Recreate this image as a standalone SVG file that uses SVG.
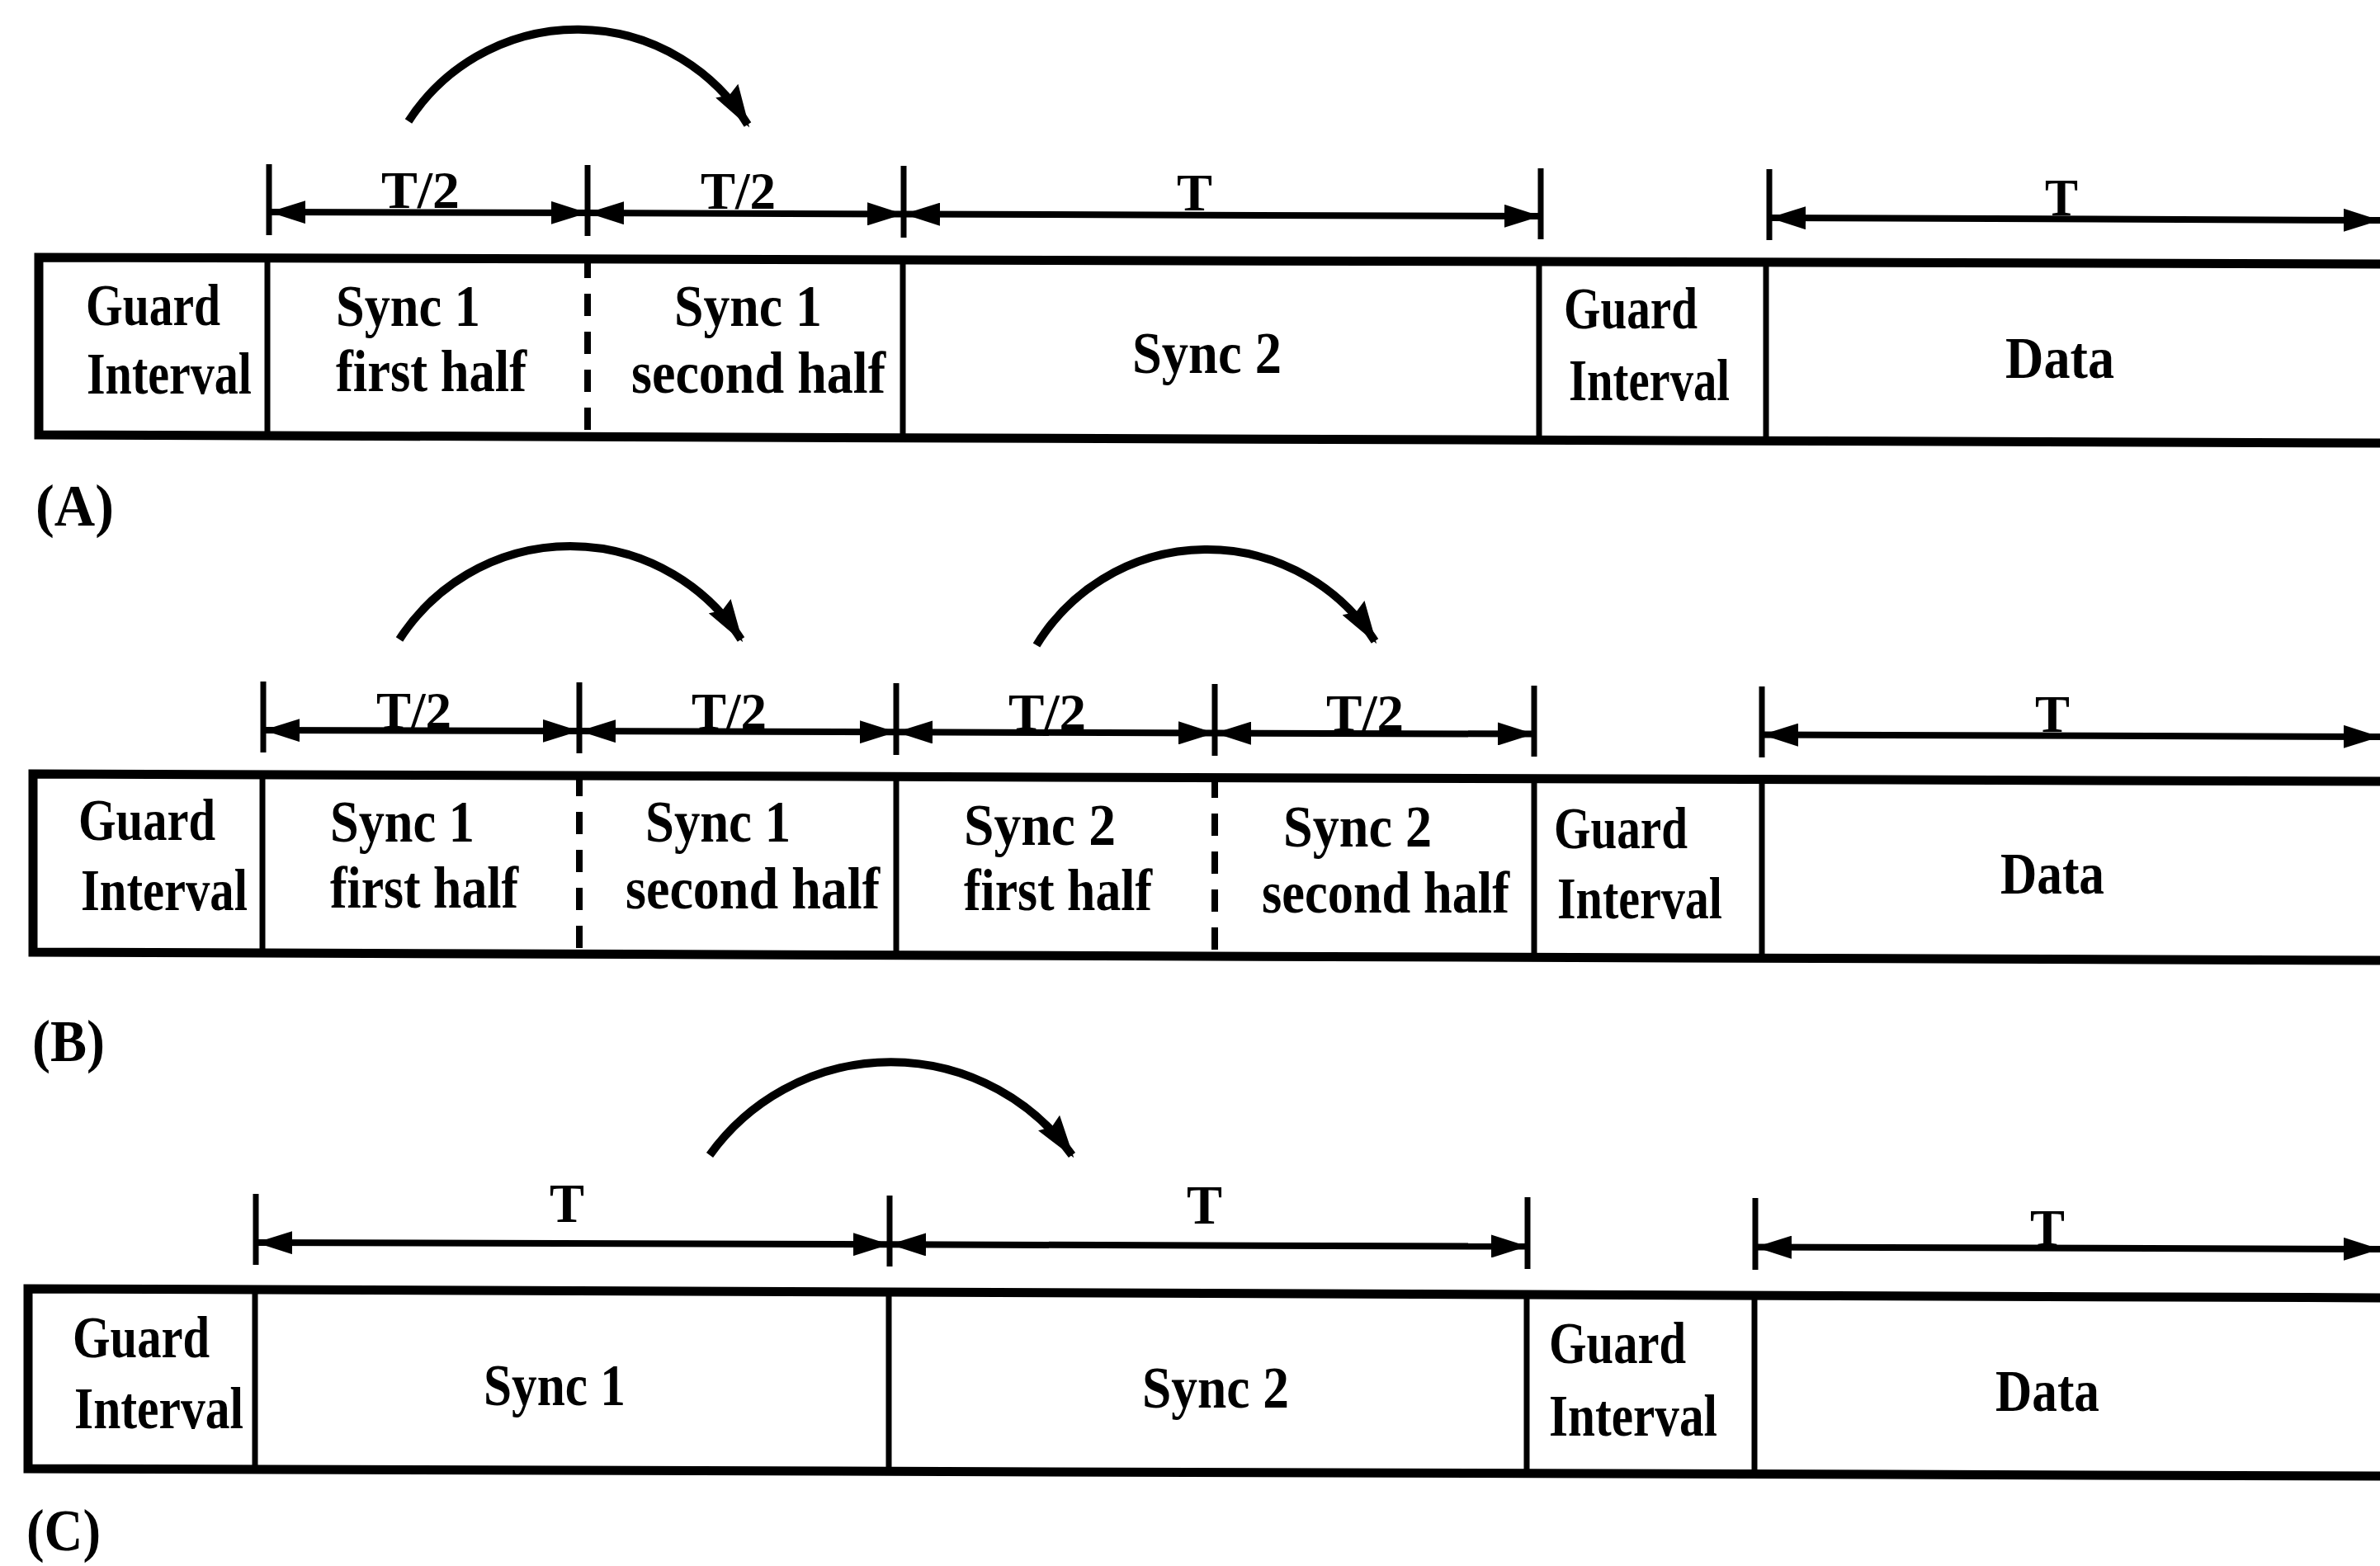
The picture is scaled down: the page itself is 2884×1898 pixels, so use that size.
<svg xmlns="http://www.w3.org/2000/svg" width="2884" height="1898" viewBox="0 0 2884 1898">
<style>
.frame{fill:none;stroke:#000;stroke-width:11;stroke-linejoin:miter}
.div{stroke:#000;stroke-width:7}
.dash{stroke:#000;stroke-width:8;stroke-dasharray:27 19;stroke-dashoffset:2}
.tick{stroke:#000;stroke-width:7}
.dim{stroke:#000;stroke-width:8}
.arc{fill:none;stroke:#000;stroke-width:10}
text{font-family:"Liberation Serif","Times New Roman",serif;font-weight:bold;fill:#000}
.lbl{font-size:71px}
.t{font-size:63px}
.tc{font-size:68px}
</style>
<defs>
<marker id="dh" viewBox="0 0 44 28" refX="44" refY="14" markerWidth="44" markerHeight="28" orient="auto-start-reverse" markerUnits="userSpaceOnUse"><path d="M0,0 L44,14 L0,28 Z" fill="#000"/></marker>
<marker id="ah" viewBox="0 0 52 32" refX="48" refY="16" markerWidth="52" markerHeight="32" orient="auto" markerUnits="userSpaceOnUse"><path d="M0,0 L52,16 L0,32 L6,16 Z" fill="#000"/></marker>
</defs>
<rect width="2884" height="1898" fill="#fff"/>

<!-- Panel A frame -->
<g id="frameA">
<path class="frame" d="M2895,320 L47,312 L47,527 L2895,537"/>
<line class="div" x1="324" y1="312" x2="324" y2="528"/>
<line class="dash" x1="712" y1="312" x2="712" y2="529"/>
<line class="div" x1="1094" y1="315" x2="1094" y2="531"/>
<line class="div" x1="1865" y1="317" x2="1865" y2="533"/>
<line class="div" x1="2140" y1="318" x2="2140" y2="534"/>
</g>
<g id="A-guard1"><text class="lbl" x="104" y="394" textLength="163" lengthAdjust="spacingAndGlyphs">Guard</text><text class="lbl" x="105" y="477" textLength="200" lengthAdjust="spacingAndGlyphs">Interval</text></g>
<g id="A-sync1a"><text class="lbl" x="407" y="395" textLength="175" lengthAdjust="spacingAndGlyphs">Sync 1</text><text class="lbl" x="407" y="474" textLength="231" lengthAdjust="spacingAndGlyphs">first half</text></g>
<g id="A-sync1b"><text class="lbl" x="817" y="395" textLength="179" lengthAdjust="spacingAndGlyphs">Sync 1</text><text class="lbl" x="765" y="476" textLength="308" lengthAdjust="spacingAndGlyphs">second half</text></g>
<g id="A-sync2"><text class="lbl" x="1372" y="452" textLength="181" lengthAdjust="spacingAndGlyphs">Sync 2</text></g>
<g id="A-guard2"><text class="lbl" x="1895" y="398" textLength="162" lengthAdjust="spacingAndGlyphs">Guard</text><text class="lbl" x="1901" y="485" textLength="195" lengthAdjust="spacingAndGlyphs">Interval</text></g>
<g id="A-data"><text class="lbl" x="2430" y="458" textLength="132" lengthAdjust="spacingAndGlyphs">Data</text></g>
<g id="A-label"><text class="lbl" x="43" y="637" textLength="95" lengthAdjust="spacingAndGlyphs">(A)</text></g>

<!-- Panel B frame -->
<g id="frameB">
<path class="frame" d="M2895,947 L40,938 L40,1154 L2895,1164"/>
<line class="div" x1="318" y1="939" x2="318" y2="1155"/>
<line class="dash" x1="702" y1="940" x2="702" y2="1156"/>
<line class="div" x1="1086" y1="941" x2="1086" y2="1158"/>
<line class="dash" x1="1472" y1="942" x2="1472" y2="1159"/>
<line class="div" x1="1859" y1="944" x2="1859" y2="1160"/>
<line class="div" x1="2135" y1="945" x2="2135" y2="1161"/>
</g>
<g id="B-guard1"><text class="lbl" x="95" y="1018" textLength="166" lengthAdjust="spacingAndGlyphs">Guard</text><text class="lbl" x="98" y="1103" textLength="202" lengthAdjust="spacingAndGlyphs">Interval</text></g>
<g id="B-sync1a"><text class="lbl" x="400" y="1020" textLength="175" lengthAdjust="spacingAndGlyphs">Sync 1</text><text class="lbl" x="400" y="1100" textLength="228" lengthAdjust="spacingAndGlyphs">first half</text></g>
<g id="B-sync1b"><text class="lbl" x="782" y="1020" textLength="176" lengthAdjust="spacingAndGlyphs">Sync 1</text><text class="lbl" x="758" y="1101" textLength="308" lengthAdjust="spacingAndGlyphs">second half</text></g>
<g id="B-sync2a"><text class="lbl" x="1168" y="1024" textLength="184" lengthAdjust="spacingAndGlyphs">Sync 2</text><text class="lbl" x="1168" y="1103" textLength="228" lengthAdjust="spacingAndGlyphs">first half</text></g>
<g id="B-sync2b"><text class="lbl" x="1555" y="1026" textLength="180" lengthAdjust="spacingAndGlyphs">Sync 2</text><text class="lbl" x="1529" y="1106" textLength="300" lengthAdjust="spacingAndGlyphs">second half</text></g>
<g id="B-guard2"><text class="lbl" x="1883" y="1028" textLength="162" lengthAdjust="spacingAndGlyphs">Guard</text><text class="lbl" x="1887" y="1113" textLength="200" lengthAdjust="spacingAndGlyphs">Interval</text></g>
<g id="B-data"><text class="lbl" x="2424" y="1083" textLength="126" lengthAdjust="spacingAndGlyphs">Data</text></g>
<g id="B-label"><text class="lbl" x="39" y="1286" textLength="88" lengthAdjust="spacingAndGlyphs">(B)</text></g>

<!-- Panel C frame -->
<g id="frameC">
<path class="frame" d="M2895,1573 L34,1562 L34,1780 L2895,1789"/>
<line class="div" x1="309" y1="1563" x2="309" y2="1781"/>
<line class="div" x1="1077" y1="1566" x2="1077" y2="1783"/>
<line class="div" x1="1850" y1="1569" x2="1850" y2="1786"/>
<line class="div" x1="2126" y1="1570" x2="2126" y2="1787"/>
</g>
<g id="C-guard1"><text class="lbl" x="88" y="1645" textLength="166" lengthAdjust="spacingAndGlyphs">Guard</text><text class="lbl" x="90" y="1731" textLength="205" lengthAdjust="spacingAndGlyphs">Interval</text></g>
<g id="C-sync1"><text class="lbl" x="586" y="1703" textLength="172" lengthAdjust="spacingAndGlyphs">Sync 1</text></g>
<g id="C-sync2"><text class="lbl" x="1384" y="1706" textLength="178" lengthAdjust="spacingAndGlyphs">Sync 2</text></g>
<g id="C-guard2"><text class="lbl" x="1877" y="1652" textLength="166" lengthAdjust="spacingAndGlyphs">Guard</text><text class="lbl" x="1877" y="1740" textLength="204" lengthAdjust="spacingAndGlyphs">Interval</text></g>
<g id="C-data"><text class="lbl" x="2418" y="1710" textLength="126" lengthAdjust="spacingAndGlyphs">Data</text></g>
<g id="C-label"><text class="lbl" x="32" y="1879" textLength="90" lengthAdjust="spacingAndGlyphs">(C)</text></g>

<!-- Connectors -->
<g id="connectors">
<!-- Panel A dimension lines -->
<line class="tick" x1="326" y1="199" x2="326" y2="285"/>
<line class="tick" x1="712" y1="200" x2="712" y2="286"/>
<line class="tick" x1="1095" y1="201" x2="1095" y2="288"/>
<line class="tick" x1="1867" y1="204" x2="1867" y2="290"/>
<line class="tick" x1="2144" y1="205" x2="2144" y2="291"/>
<line class="dim" x1="326" y1="257" x2="712" y2="258" marker-start="url(#dh)" marker-end="url(#dh)"/>
<line class="dim" x1="712" y1="258" x2="1095" y2="259.5" marker-start="url(#dh)" marker-end="url(#dh)"/>
<line class="dim" x1="1095" y1="259.5" x2="1867" y2="262" marker-start="url(#dh)" marker-end="url(#dh)"/>
<line class="dim" x1="2144" y1="264" x2="2884" y2="267" marker-start="url(#dh)" marker-end="url(#dh)"/>
<text class="t" x="462" y="252" textLength="95" lengthAdjust="spacingAndGlyphs">T/2</text>
<text class="t" x="849" y="253" textLength="91" lengthAdjust="spacingAndGlyphs">T/2</text>
<text class="t" x="1426" y="255" textLength="43" lengthAdjust="spacingAndGlyphs">T</text>
<text class="t" x="2478" y="261" textLength="40" lengthAdjust="spacingAndGlyphs">T</text>
<path class="arc" d="M495,147 A243,243 0 0 1 906,151" marker-end="url(#ah)"/>

<!-- Panel B dimension lines -->
<line class="tick" x1="319" y1="826" x2="319" y2="912"/>
<line class="tick" x1="702" y1="827" x2="702" y2="913"/>
<line class="tick" x1="1086" y1="828" x2="1086" y2="915"/>
<line class="tick" x1="1472" y1="829" x2="1472" y2="916"/>
<line class="tick" x1="1859" y1="831" x2="1859" y2="917"/>
<line class="tick" x1="2135" y1="832" x2="2135" y2="918"/>
<line class="dim" x1="319" y1="885" x2="702" y2="886" marker-start="url(#dh)" marker-end="url(#dh)"/>
<line class="dim" x1="702" y1="886" x2="1086" y2="887.3" marker-start="url(#dh)" marker-end="url(#dh)"/>
<line class="dim" x1="1086" y1="887.3" x2="1472" y2="888.5" marker-start="url(#dh)" marker-end="url(#dh)"/>
<line class="dim" x1="1472" y1="888.5" x2="1859" y2="889.6" marker-start="url(#dh)" marker-end="url(#dh)"/>
<line class="dim" x1="2135" y1="890.5" x2="2884" y2="893" marker-start="url(#dh)" marker-end="url(#dh)"/>
<text class="t" x="456" y="883" textLength="91" lengthAdjust="spacingAndGlyphs">T/2</text>
<text class="t" x="838" y="884" textLength="91" lengthAdjust="spacingAndGlyphs">T/2</text>
<text class="t" x="1222" y="885" textLength="94" lengthAdjust="spacingAndGlyphs">T/2</text>
<text class="t" x="1607" y="886" textLength="94" lengthAdjust="spacingAndGlyphs">T/2</text>
<text class="t" x="2466" y="887" textLength="42" lengthAdjust="spacingAndGlyphs">T</text>
<path class="arc" d="M484,775 A246,246 0 0 1 898,775" marker-end="url(#ah)"/>
<path class="arc" d="M1256,782 A242,242 0 0 1 1666,777" marker-end="url(#ah)"/>

<!-- Panel C dimension lines -->
<line class="tick" x1="310" y1="1447" x2="310" y2="1533"/>
<line class="tick" x1="1078" y1="1449" x2="1078" y2="1535"/>
<line class="tick" x1="1851" y1="1451" x2="1851" y2="1538"/>
<line class="tick" x1="2127" y1="1452" x2="2127" y2="1539"/>
<line class="dim" x1="310" y1="1506" x2="1078" y2="1508.3" marker-start="url(#dh)" marker-end="url(#dh)"/>
<line class="dim" x1="1078" y1="1508.3" x2="1851" y2="1510.6" marker-start="url(#dh)" marker-end="url(#dh)"/>
<line class="dim" x1="2127" y1="1511.5" x2="2884" y2="1514" marker-start="url(#dh)" marker-end="url(#dh)"/>
<text class="tc" x="666" y="1481" textLength="42" lengthAdjust="spacingAndGlyphs">T</text>
<text class="tc" x="1438" y="1483" textLength="43" lengthAdjust="spacingAndGlyphs">T</text>
<text class="t" x="2460" y="1510" textLength="42" lengthAdjust="spacingAndGlyphs">T</text>
<path class="arc" d="M860,1400 A270,270 0 0 1 1299,1400" marker-end="url(#ah)"/>
</g>
</svg>
